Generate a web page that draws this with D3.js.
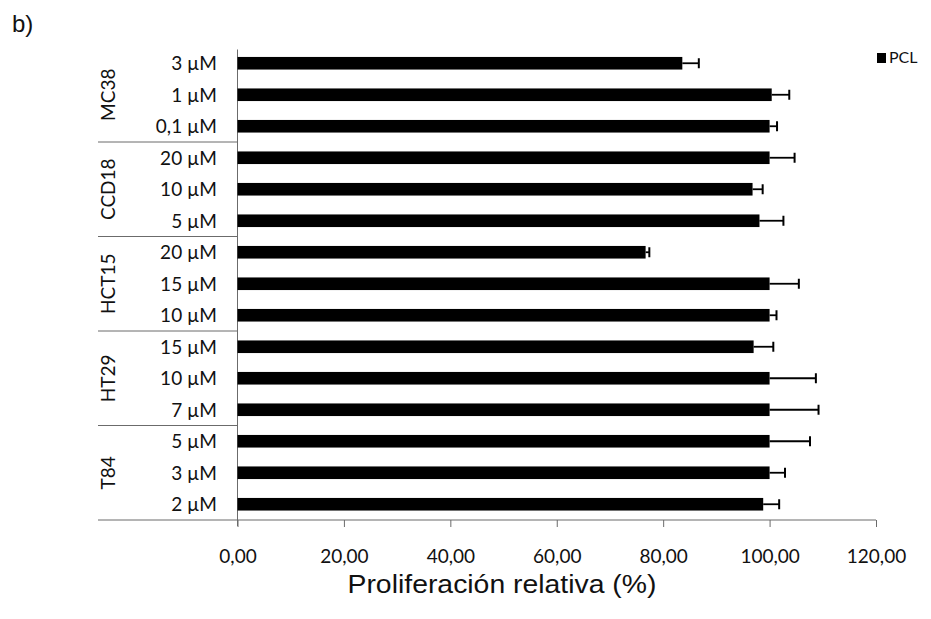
<!DOCTYPE html>
<html>
<head>
<meta charset="utf-8">
<script src="https://cdn.jsdelivr.net/npm/d3@7"></script>
<style>
  body { margin: 0; background: #fff; }
  svg { display: block; }
</style>
</head>
<body>
<div id="chart"></div>
<script>
// data, top to bottom
var groups = ["MC38", "CCD18", "HCT15", "HT29", "T84"];
var doses = ["3 µM", "1 µM", "0,1 µM",
             "20 µM", "10 µM", "5 µM",
             "20 µM", "15 µM", "10 µM",
             "15 µM", "10 µM", "7 µM",
             "5 µM", "3 µM", "2 µM"];
var pcl = [83.6, 100.4, 100, 100, 96.8, 98.1, 76.7, 100, 100, 97.0, 100, 100, 100, 100, 98.8];
var pclErr = [3.1, 3.3, 1.4, 4.7, 1.9, 4.5, 0.7, 5.5, 1.3, 3.7, 8.7, 9.2, 7.6, 2.9, 3.0];
var xTicks = [0, 20, 40, 60, 80, 100, 120];

var width = 931, height = 619;
var margin = { top: 47.5, left: 237.5, right: 55, bottom: 99 };
var groupLeft = 98;

var svg = d3.select("#chart")
    .append("svg")
    .attr("width", width)
    .attr("height", height);

var x = d3.scaleLinear()
    .domain([0, 120])
    .range([margin.left, width - margin.right]);

var ids = doses.map(function (d, i) { return i; });
var y = d3.scaleBand()
    .domain(ids)
    .range([margin.top, height - margin.bottom])
    .paddingInner(0.6)
    .paddingOuter(0.3);

var step = y.step();
var bottom = height - margin.bottom;

var lineColor = "#6b6b6b";
var labelFont = "Lato, 'Open Sans', sans-serif";

// vertical axis line
svg.append("line")
    .attr("x1", x(0)).attr("x2", x(0))
    .attr("y1", margin.top + 2).attr("y2", bottom + 6)
    .attr("stroke", lineColor)
    .attr("stroke-width", 1);

// group separators (and bottom line) + group names
groups.forEach(function (g, k) {
    var yb = margin.top + (k + 1) * 3 * step;
    svg.append("line")
        .attr("x1", groupLeft)
        .attr("x2", k == groups.length - 1 ? x(120) : x(0))
        .attr("y1", yb).attr("y2", yb)
        .attr("stroke", lineColor)
        .attr("stroke-width", 1);

    var yc = margin.top + (k + 0.5) * 3 * step;
    svg.append("text")
        .attr("transform", "translate(115," + yc + ") rotate(-90)")
        .attr("text-anchor", "middle")
        .style("font-family", labelFont)
        .style("font-size", "19px")
        .style("fill", "#111")
        .text(g);
});

// x axis
var fmt = d3.formatLocale({ decimal: ",", thousands: ".", grouping: [3], currency: ["", ""] }).format(".2f");
var xAxis = svg.append("g")
    .attr("transform", "translate(0," + bottom + ")")
    .call(d3.axisBottom(x).tickValues(xTicks).tickSize(7).tickFormat(fmt));
xAxis.select(".domain").remove();
xAxis.selectAll(".tick line").attr("stroke", lineColor);
xAxis.selectAll(".tick text")
    .attr("y", 29)
    .attr("dy", "0.72em")
    .style("font-family", labelFont)
    .style("font-size", "19px")
    .style("fill", "#111");

// dose labels
svg.append("g")
    .selectAll("text")
    .data(doses)
    .enter()
    .append("text")
    .attr("x", 217)
    .attr("y", function (d, i) { return y(i) + y.bandwidth() / 2; })
    .attr("dy", "0.36em")
    .attr("text-anchor", "end")
    .style("font-family", labelFont)
    .style("font-size", "19px")
    .style("fill", "#111")
    .text(function (d) { return d; });

// bars
svg.append("g")
    .selectAll("rect")
    .data(pcl)
    .enter()
    .append("rect")
    .attr("x", x(0))
    .attr("y", function (d, i) { return y(i); })
    .attr("width", function (d) { return x(d) - x(0); })
    .attr("height", y.bandwidth())
    .attr("fill", "#000");

// error bars
var err = svg.append("g")
    .selectAll("g")
    .data(pcl)
    .enter()
    .append("g");
err.append("line")
    .attr("x1", function (d) { return x(d); })
    .attr("x2", function (d, i) { return x(d + pclErr[i]); })
    .attr("y1", function (d, i) { return y(i) + y.bandwidth() / 2; })
    .attr("y2", function (d, i) { return y(i) + y.bandwidth() / 2; })
    .attr("stroke", "#000")
    .attr("stroke-width", 1.8);
err.append("line")
    .attr("x1", function (d, i) { return x(d + pclErr[i]); })
    .attr("x2", function (d, i) { return x(d + pclErr[i]); })
    .attr("y1", function (d, i) { return y(i) + y.bandwidth() / 2 - 5; })
    .attr("y2", function (d, i) { return y(i) + y.bandwidth() / 2 + 5; })
    .attr("stroke", "#000")
    .attr("stroke-width", 2);

// axis title
svg.append("text")
    .attr("x", 502)
    .attr("y", 593)
    .attr("text-anchor", "middle")
    .attr("textLength", 309)
    .attr("lengthAdjust", "spacingAndGlyphs")
    .style("font-family", "'Liberation Sans', Arial, sans-serif")
    .style("font-size", "26px")
    .style("fill", "#111")
    .text("Proliferación relativa (%)");

// panel letter
svg.append("text")
    .attr("x", 12)
    .attr("y", 32)
    .style("font-family", "'Liberation Sans', Arial, sans-serif")
    .style("font-size", "24px")
    .style("fill", "#111")
    .text("b)");

// legend
svg.append("rect")
    .attr("x", 877).attr("y", 53)
    .attr("width", 9).attr("height", 10)
    .attr("fill", "#000");
svg.append("text")
    .attr("x", 889).attr("y", 63)
    .style("font-family", labelFont)
    .style("font-size", "16px")
    .style("fill", "#111")
    .text("PCL");
</script>
</body>
</html>
